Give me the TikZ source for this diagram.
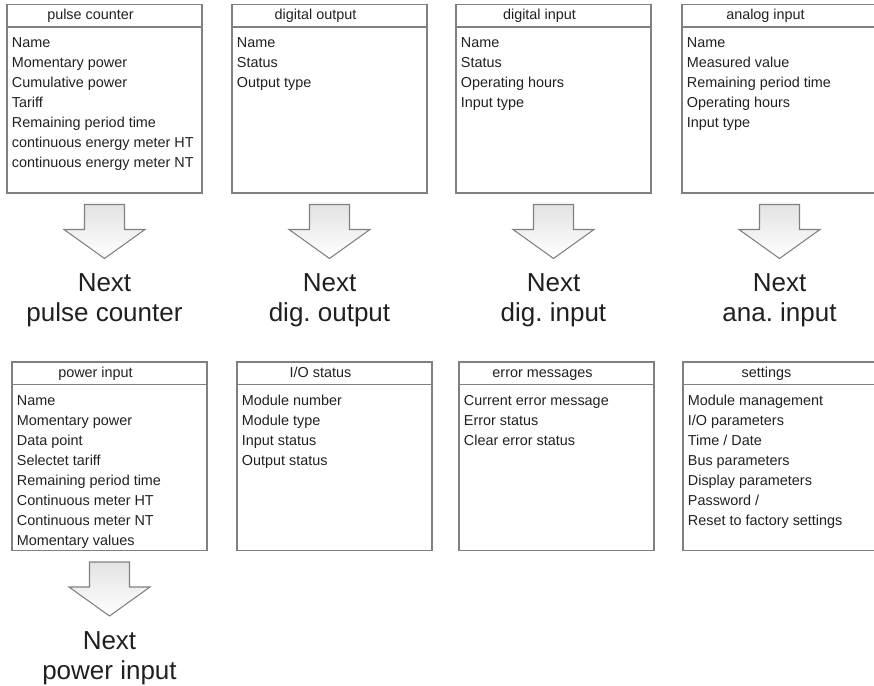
\documentclass[tikz,border=0pt]{standalone}
\usepackage{fontspec}
\setmainfont{Liberation Sans}
\usetikzlibrary{positioning}
\definecolor{boxline}{RGB}{128,128,128}
\definecolor{ink}{RGB}{35,31,32}

\begin{document}
\frenchspacing
\begin{tikzpicture}[
    x=0.75pt, y=-0.75pt,
    hdr/.style={draw=boxline, line width=1pt, outer sep=0pt, anchor=north west,
      minimum width=146.25pt, minimum height=16.9pt, inner sep=0pt, text=ink,
      text height=7.9pt, text depth=2.2pt,
      font=\fontsize{10.8pt}{15pt}\selectfont, execute at end node={\hspace{21pt}}},
    body/.style={draw=boxline, line width=1pt, outer sep=0pt,
      minimum width=146.25pt, minimum height=124.5pt, inner sep=0pt},
    items/.style={anchor=north west, align=left, inner xsep=3.5pt, inner ysep=7.8pt,
      text=ink, font=\fontsize{10.8pt}{15pt}\selectfont},
    nextarr/.style={draw=boxline, line width=0.8pt, top color=gray!22, bottom color=white},
    nextlbl/.style={anchor=north, align=center, inner sep=0pt, text=ink,
      font=\fontsize{19.5pt}{22.5pt}\selectfont}
  ]

\useasboundingbox (0,0) rectangle (874,685);

% Upper row of menus
\node[hdr] (pc-h) at (7,4.5) {pulse counter};
\node[body, below=0pt of pc-h] (pc) {};
\node[items] (pc-l) at (pc.north west) {Name\\Momentary power\\Cumulative power\\Tariff\\Remaining period time\\continuous energy meter HT\\continuous energy meter NT};

\node[hdr] (dout-h) at (232,4.5) {digital output};
\node[body, below=0pt of dout-h] (dout) {};
\node[items] (dout-l) at (dout.north west) {Name\\Status\\Output type};

\node[hdr] (din-h) at (456,4.5) {digital input};
\node[body, below=0pt of din-h] (din) {};
\node[items] (din-l) at (din.north west) {Name\\Status\\Operating hours\\Input type};

\node[hdr] (ain-h) at (682,4.5) {analog input};
\node[body, below=0pt of ain-h] (ain) {};
\node[items] (ain-l) at (ain.north west) {Name\\Measured value\\Remaining period time\\Operating hours\\Input type};

% Lower row of menus
\node[hdr] (pwr-h) at (12,362) {power input};
\node[body, below=0pt of pwr-h] (pwr) {};
\node[items] (pwr-l) at (pwr.north west) {Name\\Momentary power\\Data point\\Selectet tariff\\Remaining period time\\Continuous meter HT\\Continuous meter NT\\Momentary values};

\node[hdr] (io-h) at (237,362) {I/O status};
\node[body, below=0pt of io-h] (io) {};
\node[items] (io-l) at (io.north west) {Module number\\Module type\\Input status\\Output status};

\node[hdr] (err-h) at (459,362) {error messages};
\node[body, below=0pt of err-h] (err) {};
\node[items] (err-l) at (err.north west) {Current error message\\Error status\\Clear error status};

\node[hdr] (set-h) at (683,362) {settings};
\node[body, below=0pt of set-h] (set) {};
\node[items] (set-l) at (set.north west) {Module management\\I/O parameters\\Time / Date\\Bus parameters\\Display parameters\\Password /\\Reset to factory settings};

% Block arrows to the next item
\foreach \b/\t in {pc/pulse counter, dout/dig. output, din/dig. input, ain/ana. input, pwr/power input} {
  \draw[nextarr] ([yshift=-8.6pt]\b.south) ++(-20,0) -- ++(0,25) -- ++(-20.5,0)
    -- ++(40.5,29) coordinate (\b-tip) -- ++(40.5,-29) -- ++(-20.5,0) -- ++(0,-25) -- cycle;
  \node[nextlbl, below=11.25pt of \b-tip] (\b-next) {Next\\\t};
}

\end{tikzpicture}
\end{document}
